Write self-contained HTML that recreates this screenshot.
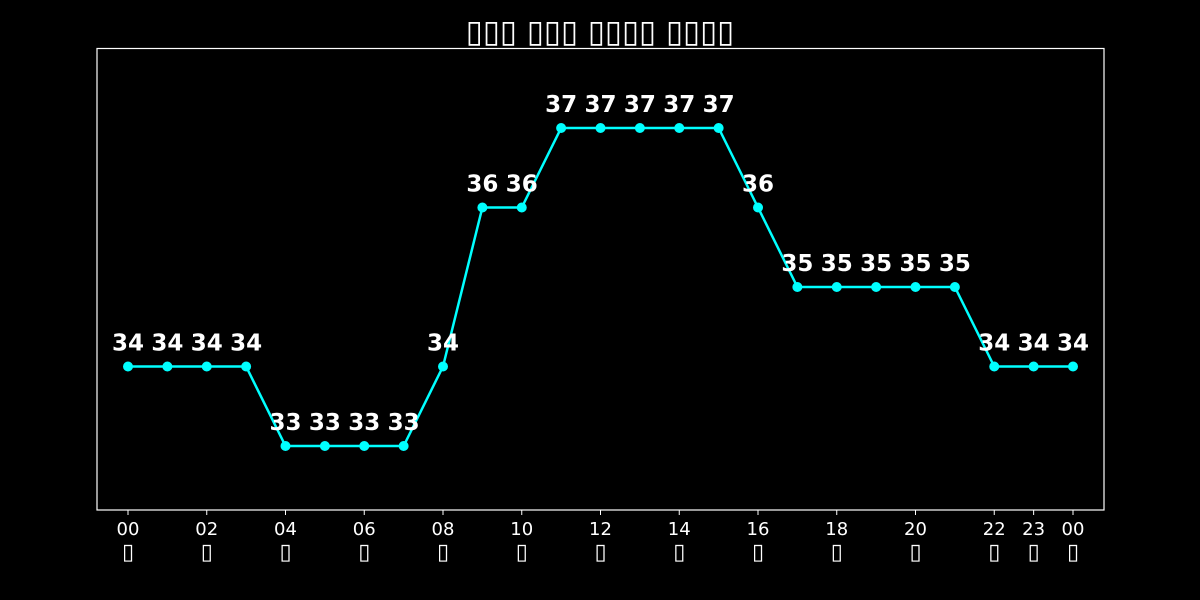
<!DOCTYPE html>
<html><head><meta charset="utf-8"><style>
body{margin:0;background:#000;}
svg{display:block;font-family:"DejaVu Sans","Liberation Sans",sans-serif;}
</style></head><body>
<svg id="chart" width="1200" height="600">
<rect width="1200" height="600" fill="#000"/>
<text x="600" y="42" fill="#fff" font-size="31" text-anchor="middle">▯▯▯ ▯▯▯ ▯▯▯▯ ▯▯▯▯</text>
<rect x="97" y="48.5" width="1007" height="461.5" fill="none" stroke="#fff" stroke-width="1.2"/>
<g id="ticks"></g><g id="series"></g>
</svg>
<script>
const hours=["00","01","02","03","04","05","06","07","08","09","10","11","12","13","14","15","16","17","18","19","20","21","22","23","00"];
const values=[34,34,34,34,33,33,33,33,34,36,36,37,37,37,37,37,36,35,35,35,35,35,34,34,34];
const tickIdx=[0,2,4,6,8,10,12,14,16,18,20,22,23,24];
const NS="http://www.w3.org/2000/svg";
const xs=i=>128+i*(1073-128)/24;
const ys=v=>446-(v-33)*79.5;
function mk(t,a,p){const e=document.createElementNS(NS,t);for(const k in a)e.setAttribute(k,a[k]);p.appendChild(e);return e;}
const tg=document.getElementById('ticks'),sg=document.getElementById('series');
tickIdx.forEach(i=>{
 const l=mk('line',{x1:xs(i),x2:xs(i),y1:510,y2:515,stroke:'#fff'},tg);
 
 
 const t=mk('text',{x:xs(i),y:535,fill:'#fff','font-size':18,'text-anchor':'middle'},tg);
 t.textContent=hours[i];
 
 
 const u=mk('text',{x:xs(i),y:559,fill:'#fff','font-size':22,'text-anchor':'middle'},tg);
 u.textContent='▯';
 
 
});
const path=mk('polyline',{points:values.map((v,i)=>xs(i)+','+ys(v)).join(' '),fill:'none',stroke:'#00ffff','stroke-width':2.5},sg);


values.forEach((v,i)=>{
 const c=mk('circle',{cx:xs(i),cy:ys(v),r:5,fill:'#00ffff'},sg);
 
 
 const t=mk('text',{x:xs(i),y:ys(v)-16,fill:'#fff','font-size':23,'font-weight':'bold','text-anchor':'middle'},sg);
 t.textContent=v;
 
 
});
</script>
</body></html>
